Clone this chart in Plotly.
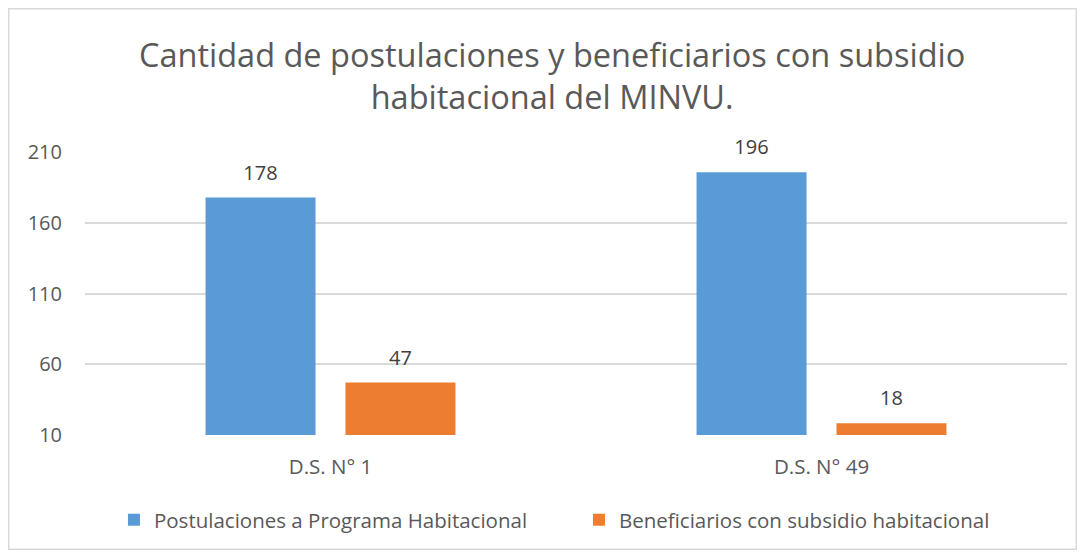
import plotly.graph_objects as go

categories = ["D.S. N° 1", "D.S. N° 49"]
postulaciones = [178, 196]
beneficiarios = [47, 18]
series_names = ["Postulaciones a Programa Habitacional", "Beneficiarios con subsidio habitacional"]
tick_vals = [10, 60, 110, 160, 210]

W, H = 1069, 542
L, R, T, B = 77, 10, 144, 115
pw, ph = W - L - R, H - T - B

font = "Open Sans"
txt = "#595959"
blue = "#5B9BD5"
orange = "#ED7D31"

fig = go.Figure()
fig.add_trace(go.Bar(x=categories, y=postulaciones, name=series_names[0],
                     marker=dict(color=blue, line=dict(width=0)), offsetgroup="a"))
fig.add_trace(go.Bar(x=categories, y=beneficiarios, name=series_names[1],
                     marker=dict(color=orange, line=dict(width=0)), offsetgroup="b"))
for vals, grp in ((postulaciones, "a"), (beneficiarios, "b")):
    fig.add_trace(go.Scatter(x=categories, y=vals, text=[str(v) for v in vals],
                             mode="markers+text", textposition="top center", showlegend=False,
                             marker=dict(size=19, opacity=0), cliponaxis=False,
                             offsetgroup=grp, hoverinfo="skip",
                             textfont=dict(size=20, color="#404040", family=font)))

fig.update_layout(
    width=W, height=H,
    margin=dict(l=L, r=R, t=T, b=B, autoexpand=False),
    paper_bgcolor="white", plot_bgcolor="white",
    barmode="group", bargap=0.43, bargroupgap=0.214, scattermode="group",
    title=dict(text="Cantidad de postulaciones y beneficiarios con subsidio<br>habitacional del MINVU.",
               x=0.509, xanchor="center", y=0.892, yanchor="middle",
               font=dict(family=font, size=32.5, color=txt)),
    font=dict(family=font, color=txt),
    legend=dict(orientation="h", x=0.503, xanchor="center", y=-0.30, yanchor="middle",
                font=dict(size=20.5, color=txt, family=font), itemwidth=30,
                traceorder="normal", entrywidth=420),
    showlegend=True,
)
fig.update_xaxes(showgrid=False, showline=False, ticks="", ticklabelstandoff=17,
                 tickfont=dict(size=20.5, color=txt, family=font))
fig.update_yaxes(range=[9.7, 210.3], tickvals=tick_vals, showgrid=True, gridcolor="#D9D9D9", gridwidth=1.5,
                 zeroline=False, showline=False, ticks="", ticklabelstandoff=22,
                 tickfont=dict(size=20, color=txt, family=font))

fig.add_shape(type="rect", xref="paper", yref="paper",
              x0=(0.75 - L) / pw, x1=(W - 0.75 - L) / pw,
              y0=(H - B - (H - 0.75)) / ph, y1=(H - B - 0.75) / ph,
              line=dict(color="#D9D9D9", width=1.5), fillcolor="rgba(0,0,0,0)", layer="below")

fig.write_html("out.html")
